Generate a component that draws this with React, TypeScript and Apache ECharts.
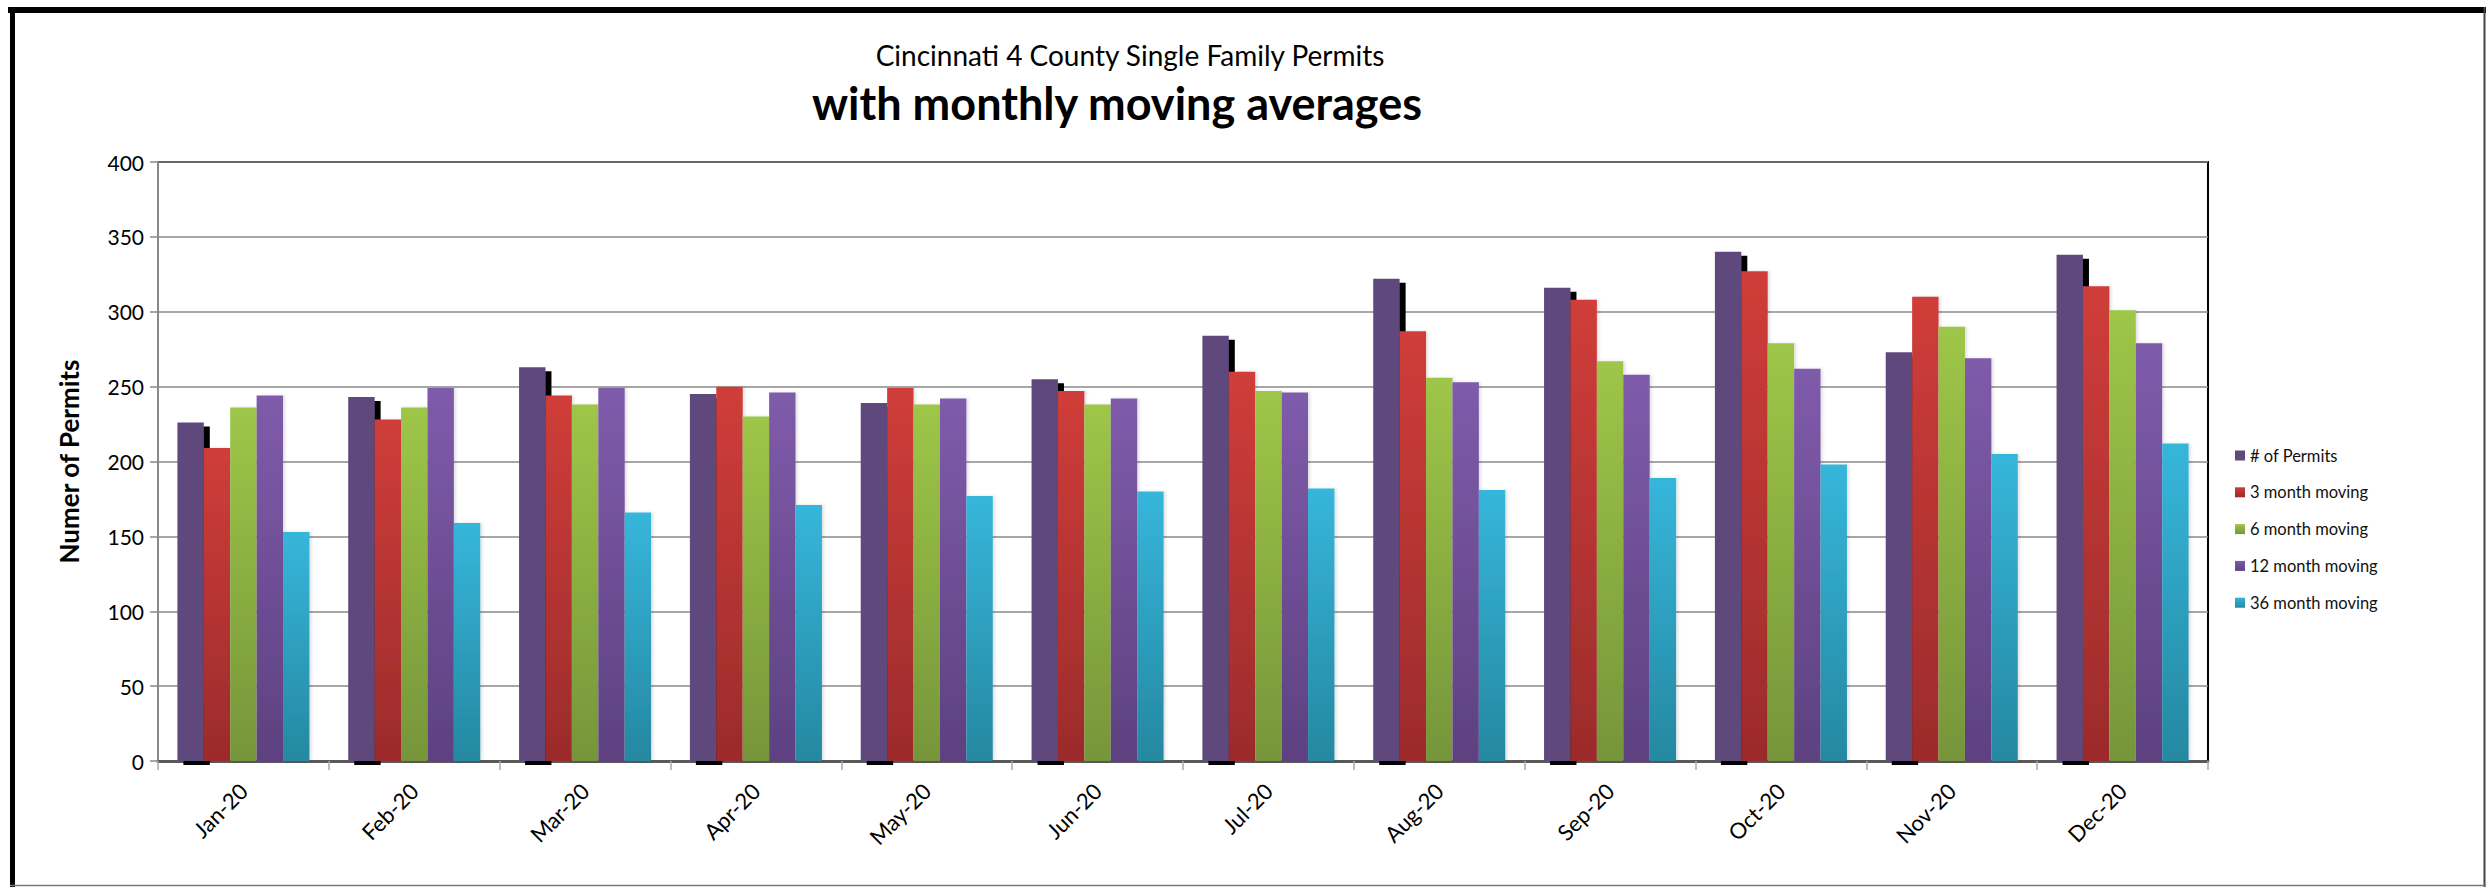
import React, { useEffect, useRef } from "react";
import * as echarts from "echarts";

const months = ["Jan-20", "Feb-20", "Mar-20", "Apr-20", "May-20", "Jun-20", "Jul-20", "Aug-20", "Sep-20", "Oct-20", "Nov-20", "Dec-20"];
const permits = [226, 243, 263, 245, 239, 255, 284, 322, 316, 340, 273, 338];
const ma3 = [209, 228, 244, 250, 249, 247, 260, 287, 308, 327, 310, 317];
const ma6 = [236, 236, 238, 230, 238, 238, 247, 256, 267, 279, 290, 301];
const ma12 = [244, 249, 249, 246, 242, 242, 246, 253, 258, 262, 269, 279];
const ma36 = [153, 159, 166, 171, 177, 180, 182, 181, 189, 198, 205, 212];
const seriesNames = ["# of Permits", "3 month moving", "6 month moving", "12 month moving", "36 month moving"];
const titleLine1 = "Cincinnati 4 County Single Family Permits";
const titleLine2 = "with monthly moving averages";
const yAxisName = "Numer of Permits";

const FONT = "Lato, 'Open Sans', sans-serif";

const grad = (top: string, bottom: string) =>
  new echarts.graphic.LinearGradient(0, 0, 0, 1, [
    { offset: 0, color: top },
    { offset: 1, color: bottom },
  ]);

export default function App() {
  const ref = useRef<HTMLDivElement>(null);
  useEffect(() => {
    if (!ref.current) return;
    const chart = echarts.init(ref.current, null, { renderer: "svg" });
    const softShadow = {
      shadowColor: "rgba(0,0,0,0.12)",
      shadowBlur: 3,
      shadowOffsetX: 2,
      shadowOffsetY: 0,
    };
    const datas = [permits, ma3, ma6, ma12, ma36];
    const styles: any[] = [
      { color: "#5F4A7B", shadowColor: "#000", shadowBlur: 0, shadowOffsetX: 6, shadowOffsetY: 4 },
      { color: grad("#D03D3A", "#9B2B2B"), ...softShadow },
      { color: grad("#9EC648", "#76953A"), ...softShadow },
      { color: grad("#7F5BAB", "#5D4180"), ...softShadow },
      { color: grad("#36B6DB", "#2588A1"), ...softShadow },
    ];
    chart.setOption({
      animation: false,
      backgroundColor: "#fff",
      textStyle: { fontFamily: FONT },
      title: [
        {
          text: titleLine1,
          left: 1125,
          top: 36,
          textAlign: "center",
          textStyle: { fontFamily: FONT, fontSize: 28, fontWeight: "normal", color: "#000" },
        },
        {
          text: titleLine2,
          left: 1112,
          top: 75,
          textAlign: "center",
          textStyle: { fontFamily: FONT, fontSize: 45, fontWeight: "bold", color: "#000" },
        },
      ],
      legend: {
        orient: "vertical",
        left: 2230,
        top: 442,
        itemWidth: 10,
        itemHeight: 10,
        itemGap: 19.8,
        icon: "rect",
        data: seriesNames,
        textStyle: { fontFamily: FONT, fontSize: 16.5, color: "#111" },
      },
      grid: {
        left: 158,
        right: 278,
        top: 162,
        bottom: 126,
        show: true,
        borderColor: "#000",
        borderWidth: 2,
        backgroundColor: "#fff",
      },
      xAxis: {
        type: "category",
        data: months,
        axisLine: { lineStyle: { color: "#5a5a5a", width: 3 } },
        axisTick: { show: true, length: 9, lineStyle: { color: "#aaa", width: 1.5 } },
        axisLabel: { rotate: 45, margin: 26, fontFamily: FONT, fontSize: 22, color: "#000" },
      },
      yAxis: {
        type: "value",
        min: 0,
        max: 400,
        interval: 50,
        name: yAxisName,
        nameLocation: "middle",
        nameGap: 76,
        nameTextStyle: { fontFamily: FONT, fontSize: 26, fontWeight: "bold", color: "#000" },
        axisLine: { show: true, lineStyle: { color: "#888", width: 2 } },
        axisTick: { show: true, length: 8, lineStyle: { color: "#888", width: 1.5 } },
        axisLabel: { margin: 14, fontFamily: FONT, fontSize: 21, color: "#000" },
        splitLine: { lineStyle: { color: "#8a8a8a", width: 1.5 } },
      },
      series: seriesNames.map((name, i) => ({
        name,
        type: "bar",
        data: datas[i],
        barGap: "0%",
        barCategoryGap: "22.7%",
        itemStyle: styles[i],
      })),
      graphic: [
        { type: "rect", shape: { x: 8, y: 7, width: 2478, height: 6 }, style: { fill: "#000" }, z: 100 },
        { type: "rect", shape: { x: 10, y: 7, width: 5, height: 880 }, style: { fill: "#000" }, z: 100 },
        { type: "line", shape: { x1: 2484.5, y1: 7, x2: 2484.5, y2: 887 }, style: { stroke: "#444", lineWidth: 2 }, z: 100 },
        { type: "line", shape: { x1: 10, y1: 885.5, x2: 2486, y2: 885.5 }, style: { stroke: "#777", lineWidth: 1.5 }, z: 100 },
      ],
    });
    return () => chart.dispose();
  }, []);
  return (
    <div
      ref={ref}
      style={{ position: "absolute", left: 0, top: 0, width: 2486, height: 887 }}
    />
  );
}
